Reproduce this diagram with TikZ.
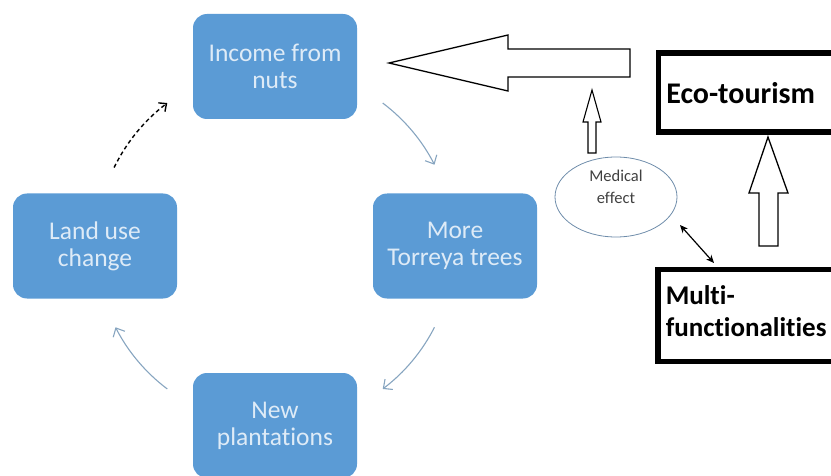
\documentclass[tikz,border=0pt]{standalone}
\usepackage{fontspec}
\setmainfont[Ligatures=NoCommon]{Carlito}
\usetikzlibrary{arrows.meta,shapes.geometric}
\definecolor{boxblue}{RGB}{91,155,213}
\definecolor{boxtext}{RGB}{222,235,247}
\definecolor{cycgray}{RGB}{135,165,192}
\definecolor{ellgray}{RGB}{110,140,170}
\begin{document}
\begin{tikzpicture}[x=1pt,y=1pt,
 cyclebox/.style={draw=none, fill=boxblue, rounded corners=14pt, minimum width=164pt, minimum height=105pt, inner sep=0pt, align=center, text=boxtext, font=\fontsize{25.5}{27}\selectfont},
 cyclearrow/.style={draw=cycgray, line width=1.1pt, -{Straight Barb[length=7pt,width=13pt]}},
 dasharrow/.style={draw=black, line width=1.4pt, dash pattern=on 4pt off 3pt, -{Straight Barb[length=6pt,width=11pt]}},
 hollow/.style={draw=black, line width=1.3pt, fill=white, line join=miter},
 thickbox/.style={draw=black, line width=5.5pt, anchor=north west, text width=200pt, inner xsep=8pt, inner ysep=0pt, align=left},
 medtext/.style={inner sep=0pt, align=center, text=black!75, font=\fontsize{16.5}{22}\selectfont},
 twoway/.style={draw=black, line width=1.2pt, {Stealth[length=8pt,width=7pt]}-{Stealth[length=8pt,width=7pt]}}
]
\useasboundingbox (0,0) rectangle (831,475);
\clip (0,0) rectangle (831,475);
\coordinate (ctr) at (275,229);
\node[cyclebox] (income) at (275,408.5) {Income from\\nuts};
\node[cyclebox] (torreya) at (455,229) {More\\Torreya trees};
\node[cyclebox] (plant) at (275,49.5) {New\\plantations};
\node[cyclebox] (land) at (95,229) {Land use\\change};
\draw[cyclearrow] ([shift={(53:179pt)}]ctr) arc[start angle=53, end angle=27, radius=179pt];
\draw[cyclearrow] ([shift={(-27:179pt)}]ctr) arc[start angle=-27, end angle=-53, radius=179pt];
\draw[cyclearrow] ([shift={(-127:179pt)}]ctr) arc[start angle=-127, end angle=-153, radius=179pt];
\draw[dasharrow] ([shift={(154:179pt)}]ctr) arc[start angle=154, end angle=127, radius=179pt];
% big hollow arrow towards income
\draw[hollow] (389,412) -- (508,440) -- (508,426) -- (630,426) -- (630,398) -- (508,398) -- (508,384) -- cycle;
% small hollow arrow from medical effect
\draw[hollow, line width=1.1pt] (592,385) -- (601,353) -- (596,353) -- (596,322) -- (588,322) -- (588,353) -- (583,353) -- cycle;
\node[ellipse, draw=ellgray, line width=0.8pt, minimum width=122pt, minimum height=80pt, inner sep=0pt] (med) at (616,278) {};
\node[medtext] (medlabel) at ([yshift=10pt]med.center) {Medical\\effect};
\node[thickbox, minimum height=79pt, font=\fontsize{30}{33}\selectfont\bfseries] (eco) at (655.5,424.5) {Eco-tourism};
\node[thickbox, minimum height=92pt, text depth=40pt, font=\fontsize{27}{32}\selectfont\bfseries] (multi) at (655,208.5) {Multi-\\functionalities};
% up hollow arrow
\draw[hollow] (768,338) -- (788,282) -- (778,282) -- (778,229) -- (759,229) -- (759,282) -- (749,282) -- cycle;
\coordinate (dmed) at (680,250);
\coordinate (dmulti) at (714,212);
\draw[twoway] (dmed) -- (dmulti);
\end{tikzpicture}
\end{document}
